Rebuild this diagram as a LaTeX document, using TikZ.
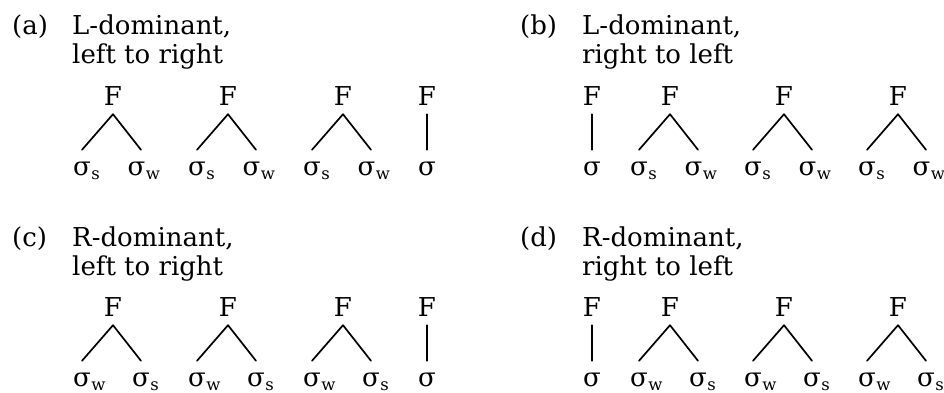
\documentclass[tikz,border=0pt]{standalone}
\usepackage{fontspec}
\setmainfont{DejaVu Serif}
\newcommand\lsub[1]{\rlap{\hspace{0.5pt}\raisebox{-4.5pt}{\fontsize{16.5}{17}\selectfont #1}}}
% #1 name, #2 apex x, #3 y offset, #4 left sub, #5 right sub, #6 right sigma centre offset, #7 right line shift
\newcommand\ftree[7]{%
  \node[fnode] (#1F) at (#2,105+#3) {F};
  \node[leaf] (#1L) at (#2-31,175+#3) {σ\lsub{#4}};
  \node[leaf] (#1R) at (#2+#6,175+#3) {σ\lsub{#5}};
  \draw[branch] (#1F.south) -- (#1L.north);
  \draw[branch] (#1F.south) -- ([xshift=#7pt]#1R.north);
}
\newcommand\fsingle[3]{%
  \node[fnode] (#1F) at (#2,105+#3) {F};
  \node[leaf] (#1S) at (#2,175+#3) {σ};
  \draw[branch] (#1F.south) -- (#1S.north);
}
\begin{document}
\begin{tikzpicture}[x=1pt,y=-1pt,
  lab/.style={anchor=base west,inner sep=0pt,font=\fontsize{26}{30}\selectfont},
  fnode/.style={anchor=base,inner xsep=0pt,inner ysep=9pt,font=\fontsize{26}{30}\selectfont},
  leaf/.style={anchor=base,inner xsep=0pt,inner ysep=11.5pt,font=\fontsize{26}{30}\selectfont},
  branch/.style={line width=1.7pt,line cap=round}]
\useasboundingbox (0,0) rectangle (944,392);
% (a)
\node[lab] (la) at (12,34) {(a)};
\node[lab] (ta1) at (72,34) {L-dominant,};
\node[lab] (ta2) at (72,63) {left to right};
\ftree{a1}{113}{0}{s}{w}{23.5}{4.5}
\ftree{a2}{228}{0}{s}{w}{23.5}{4.5}
\ftree{a3}{343}{0}{s}{w}{23.5}{4.5}
\fsingle{a4}{427}{0}
% (b)
\node[lab] (lb) at (520,34) {(b)};
\node[lab] (tb1) at (582,34) {L-dominant,};
\node[lab] (tb2) at (582,63) {right to left};
\fsingle{b1}{592}{0}
\ftree{b2}{670}{0}{s}{w}{23.5}{4.5}
\ftree{b3}{784}{0}{s}{w}{23.5}{4.5}
\ftree{b4}{898}{0}{s}{w}{23.5}{4.5}
% (c)
\node[lab] (lc) at (12,246) {(c)};
\node[lab] (tc1) at (72,246) {R-dominant,};
\node[lab] (tc2) at (72,275) {left to right};
\ftree{c1}{113}{211}{w}{s}{28}{0}
\ftree{c2}{228}{211}{w}{s}{28}{0}
\ftree{c3}{343}{211}{w}{s}{28}{0}
\fsingle{c4}{427}{211}
% (d)
\node[lab] (ld) at (520,246) {(d)};
\node[lab] (td1) at (582,246) {R-dominant,};
\node[lab] (td2) at (582,275) {right to left};
\fsingle{d1}{592}{211}
\ftree{d2}{670}{211}{w}{s}{28}{0}
\ftree{d3}{784}{211}{w}{s}{28}{0}
\ftree{d4}{898}{211}{w}{s}{28}{0}
\end{tikzpicture}
\end{document}
